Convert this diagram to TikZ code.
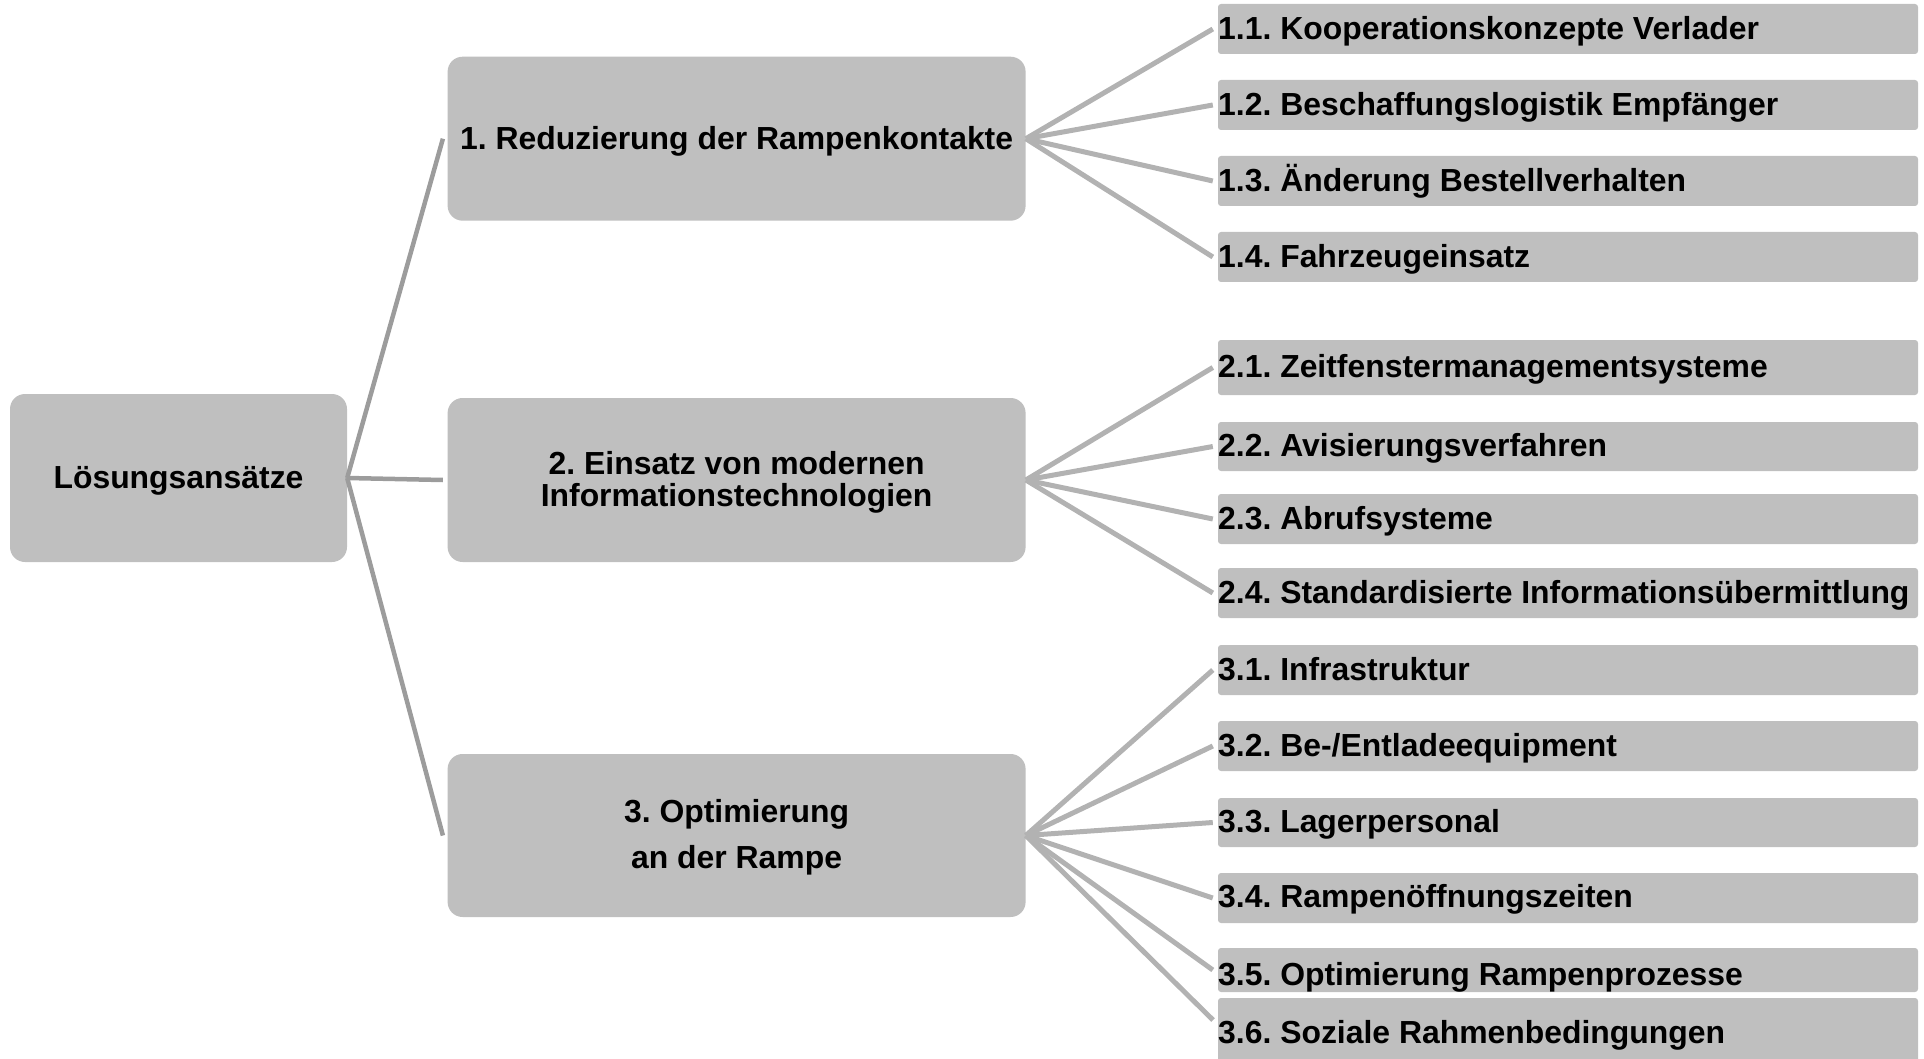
\documentclass[tikz,border=0pt]{standalone}
\usepackage{fontspec}
\setmainfont{Liberation Sans}
\usetikzlibrary{calc}
\definecolor{boxgray}{HTML}{BFBFBF}
\definecolor{rootline}{HTML}{9C9C9C}
\definecolor{leafline}{HTML}{B2B2B2}
\frenchspacing
\begin{document}
\begin{tikzpicture}[x=1pt,y=-1pt,
  bigbox/.style={fill=boxgray, draw=none, rounded corners=15pt, inner sep=0pt, minimum width=578pt},
  leafbox/.style={fill=boxgray, draw=none, rounded corners=3pt, inner sep=0pt, minimum width=700pt},
  lbl/.style={font=\fontsize{31.9}{32}\selectfont\bfseries\frenchspacing, inner sep=0pt, text=black},
  rootcon/.style={draw=rootline, line width=4.5pt},
  leafcon/.style={draw=leafline, line width=5pt},
]
\useasboundingbox (0,0) rectangle (1924,1059);

% root
\node[bigbox, minimum width=337pt, minimum height=168pt] (root) at (178.5,478) {};
\node[lbl, anchor=base] (troot) at (178.5,488) {Lösungsansätze};

% main boxes
\node[bigbox, minimum height=164pt] (m1) at (736.6,138.7) {};
\node[bigbox, minimum height=164pt] (m2) at (736.6,480) {};
\node[bigbox, minimum height=163pt] (m3) at (736.6,835.5) {};
\node[lbl, anchor=base] (tm1) at (736.6,149.5) {1. Reduzierung der Rampenkontakte};
\node[lbl, anchor=base] (tm2a) at (736.6,474) {2. Einsatz von modernen};
\node[lbl, anchor=base] (tm2b) at (736.6,506) {Informationstechnologien};
\node[lbl, anchor=base] (tm3a) at (736.6,822.6) {3. Optimierung};
\node[lbl, anchor=base] (tm3b) at (736.6,868) {an der Rampe};

% root connectors
\draw[rootcon] (root.east) -- ($(m1.west)+(-4.5pt,0pt)$);
\draw[rootcon] (root.east) -- ($(m2.west)+(-4.5pt,0pt)$);
\draw[rootcon] (root.east) -- ($(m3.west)+(-4.5pt,0pt)$);

% leaves
\foreach \n/\c/\h/\b/\t in {
  11/29/50/39.5/{1.1. Kooperationskonzepte Verlader},
  12/105/50/115.5/{1.2. Beschaffungslogistik Empfänger},
  13/181/50/191.5/{1.3. Änderung Bestellverhalten},
  14/257/50/267.5/{1.4. Fahrzeugeinsatz},
  21/367.5/55/377.5/{2.1. Zeitfenstermanagementsysteme},
  22/446.5/49/456.5/{2.2. Avisierungsverfahren},
  23/519/50/529/{2.3. Abrufsysteme},
  24/593/50/603/{2.4. Standardisierte Informationsübermittlung},
  31/670/50/680.5/{3.1. Infrastruktur},
  32/746/50/756/{3.2. Be-/Entladeequipment},
  33/822.5/49/832.5/{3.3. Lagerpersonal},
  34/898/50/907.5/{3.4. Rampenöffnungszeiten},
  35/970/44/985/{3.5. Optimierung Rampenprozesse},
  36/1036.5/77/1043/{3.6. Soziale Rahmenbedingungen}}{
  \node[leafbox, minimum height=\h pt] (b\n) at (1568,\c) {};
  \node[lbl, anchor=base west] (t\n) at (1218,\b) {\t};
}
\coordinate (e36) at (1213,1020);

% leaf connectors
\foreach \n in {11,12,13,14}{\draw[leafcon] (m1.east) -- ($(b\n.west)+(-5pt,0pt)$);}
\foreach \n in {21,22,23,24}{\draw[leafcon] (m2.east) -- ($(b\n.west)+(-5pt,0pt)$);}
\foreach \n in {31,32,33,34,35}{\draw[leafcon] (m3.east) -- ($(b\n.west)+(-5pt,0pt)$);}
\draw[leafcon] (m3.east) -- (e36);
\end{tikzpicture}
\end{document}
